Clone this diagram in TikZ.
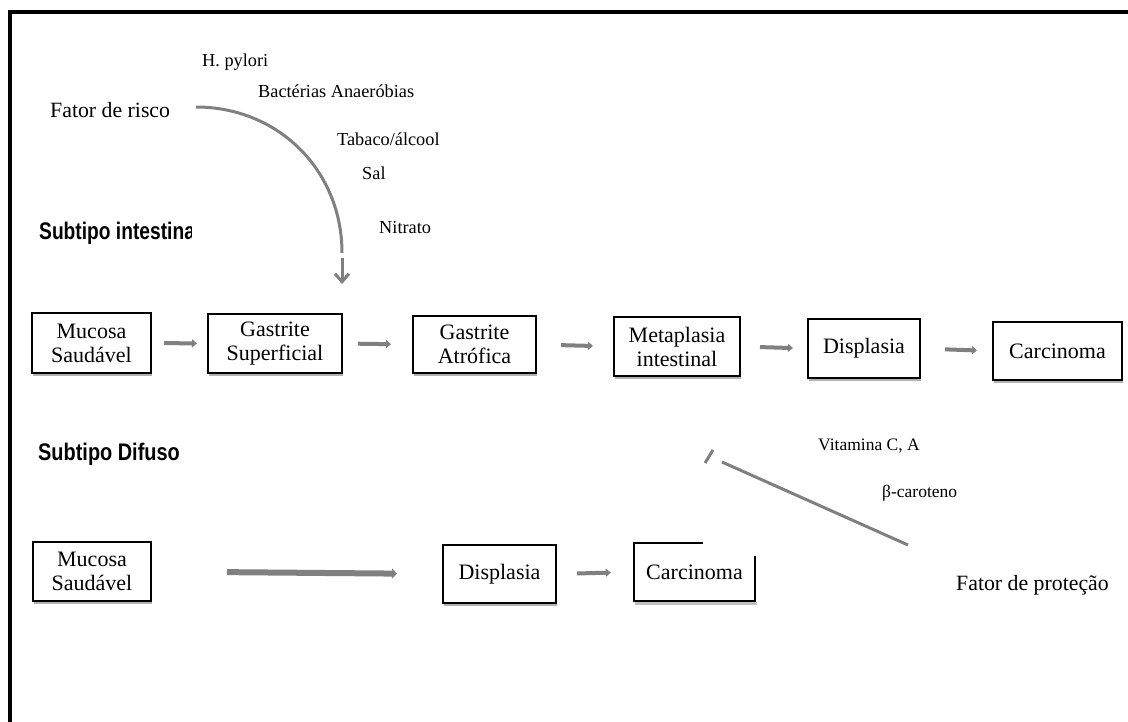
\documentclass[tikz,border=0pt]{standalone}
\usepackage{fontspec}
\usepackage{graphicx}
\setmainfont{Liberation Serif}
\newfontfamily\subfont{Liberation Sans}
\usetikzlibrary{arrows.meta,shadows}
\definecolor{arrgray}{RGB}{128,128,128}
\begin{document}
\begin{tikzpicture}[x=1pt,y=-1pt,
  stage/.style={draw=black, line width=2pt, fill=white, align=center, inner sep=0pt,
    font=\fontsize{22}{24}\selectfont,
    drop shadow={shadow xshift=0.5pt, shadow yshift=-3pt, opacity=0.3, fill=black}},
  stagebare/.style={align=center, inner sep=0pt, font=\fontsize{22}{24}\selectfont},
  boxedge/.style={draw=black, line width=2pt},
  risklabel/.style={inner sep=0pt, anchor=base west, font=\fontsize{18.3}{20}\selectfont},
  protlabel/.style={inner sep=0pt, anchor=base west, font=\fontsize{17.5}{20}\selectfont},
  biglabel/.style={inner sep=0pt, anchor=base west, font=\fontsize{21.8}{24}\selectfont},
  sublabel/.style={inner sep=0pt, anchor=base west, font=\subfont\bfseries\fontsize{24}{26}\selectfont},
  flow/.style={draw=arrgray, line width=4pt, -{Triangle[length=5pt,width=8pt]}},
  bigflow/.style={draw=arrgray, line width=6pt, -{Triangle[length=5pt,width=10pt]}},
  curveline/.style={draw=arrgray, line width=3pt},
  barbarrow/.style={draw=arrgray, line width=3pt, -{Straight Barb[length=8pt,width=14pt]}},
  inhib/.style={draw=arrgray, line width=3pt}
]
\useasboundingbox (0,0) rectangle (1128,722);
\fill[white] (0,0) rectangle (1128,722);

% frame
\draw[line width=4pt] (10,724) -- (10,12) -- (1130,12);

% risk factors
\node[risklabel] (hp) at (202,67) {H. pylori};
\node[risklabel] (bact) at (258,98) {Bactérias Anaeróbias};
\node[biglabel] (risk) at (50,118) {Fator de risco};
\node[risklabel] (tab) at (337,146) {Tabaco/álcool};
\node[risklabel] (sal) at (362,180) {Sal};
\node[risklabel] (nit) at (379,234) {Nitrato};

% subtype labels
\begin{scope}
  \clip (0,200) rectangle (191,260);
  \node[sublabel] (subint) at (39,240) {\scalebox{0.8}[1]{Subtipo intestinal}};
\end{scope}
\node[sublabel] (subdif) at (38,460) {\scalebox{0.83}[1]{Subtipo Difuso}};

% intestinal row
\node[stage, minimum width=119pt, minimum height=60pt] (m1) at (91.5,343) {Mucosa\\Saudável};
\node[stage, minimum width=134pt, minimum height=59pt] (g1) at (275,343.5) {Gastrite\\Superficial};
\node[stage, minimum width=123pt, minimum height=57pt] (g2) at (474.5,344.5) {Gastrite\\Atrófica};
\node[stage, minimum width=126pt, minimum height=59pt] (mi) at (677,346.5) {Metaplasia\\intestinal};
\node[stage, minimum width=112pt, minimum height=59pt] (d1) at (864,348.5) {Displasia};
\node[stage, minimum width=129pt, minimum height=58pt] (c1) at (1057.5,351) {Carcinoma};

\draw[flow, shorten <=12pt, shorten >=10pt] (m1.east) -- (g1.west);
\draw[flow, shorten <=15pt, shorten >=21pt] (g1.east) -- (g2.west);
\draw[flow, shorten <=24pt, shorten >=20pt] (g2.east) -- (mi.west);
\draw[flow, shorten <=19pt, shorten >=14pt] (mi.east) -- (d1.west);
\draw[flow, shorten <=24pt, shorten >=15pt] (d1.east) -- (c1.west);

% diffuse row
\node[stage, minimum width=118pt, minimum height=59pt] (m2) at (92,571.5) {Mucosa\\Saudável};
\node[stage, minimum width=113pt, minimum height=58pt] (d2) at (499.5,574) {Displasia};
\node[stagebare, minimum width=121pt, minimum height=58pt] (c2) at (694.5,572) {Carcinoma};
\fill[black, opacity=0.25] ([xshift=1pt,yshift=-1pt]c2.south west) rectangle ([xshift=1.5pt,yshift=-4pt]c2.south east);
\draw[boxedge] ([xshift=69pt]c2.north west) -- (c2.north west) -- (c2.south west) -- (c2.south east) -- ([yshift=-13pt]c2.north east);

\draw[bigflow, shorten <=75pt, shorten >=45pt] (m2.east) -- (d2.west);
\draw[flow, shorten <=20pt, shorten >=23pt] (d2.east) -- (c2.west);

% risk curve
\coordinate (r0) at (196,107);
\coordinate (r1) at (342,253);
\coordinate (r2) at (342,258);
\coordinate (r3) at (342,284);
\draw[curveline] (r0) .. controls (278,107) and (342,170) .. (r1);
\draw[barbarrow] (r2) -- (r3);

% protection
\node[protlabel] (vit) at (818,450) {Vitamina C, A};
\node[protlabel] (beta) at (882,497) {β-caroteno};
\node[biglabel] (prot) at (956,590) {Fator de proteção};
\coordinate (p0) at (908,545);
\coordinate (p1) at (722,462);
\coordinate (t0) at (705,463);
\coordinate (t1) at (713,450);
\draw[inhib] (p0) -- (p1);
\draw[inhib] (t0) -- (t1);
\end{tikzpicture}
\end{document}
